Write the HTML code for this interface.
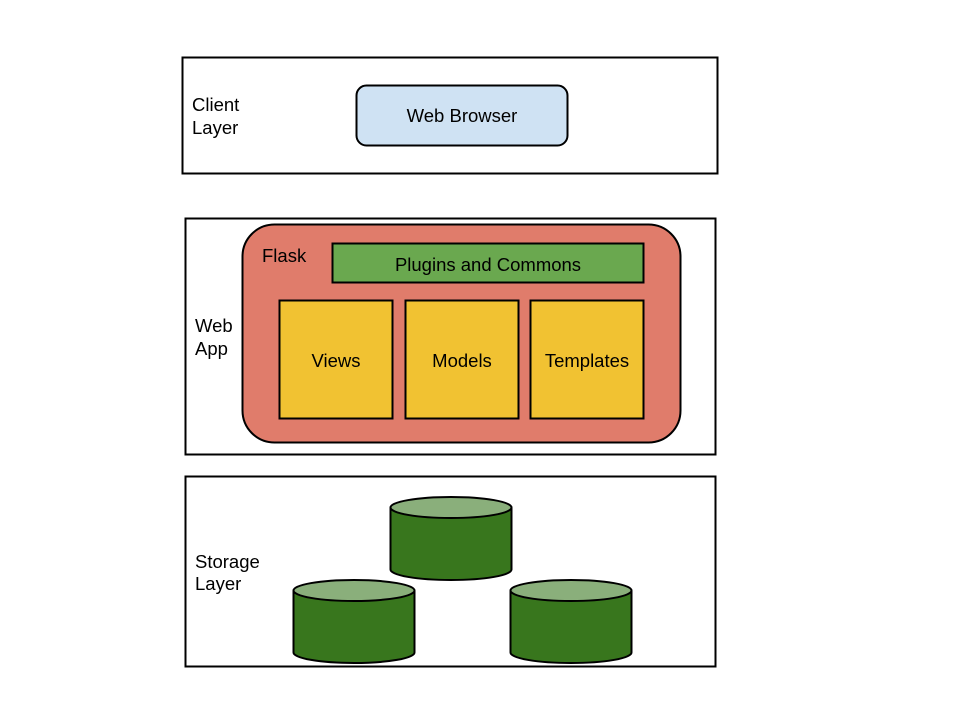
<!DOCTYPE html>
<html><head><style>body{margin:0;background:#fff}svg{display:block}text{font-family:"Liberation Sans",Arial,sans-serif;font-size:18.5px;fill:#000}</style></head>
<body>
<svg width="960" height="720" viewBox="0 0 960 720" xmlns="http://www.w3.org/2000/svg">
<g stroke="#000" stroke-width="2">
<rect x="182.5" y="57.5" width="535" height="116" fill="#fff"/>
<rect x="356.5" y="85.5" width="211" height="60" rx="10" fill="#cfe2f3"/>
<rect x="185.5" y="218.5" width="530" height="236" fill="#fff"/>
<rect x="242.5" y="224.5" width="438" height="218" rx="32" fill="#e07c6b"/>
<rect x="332.5" y="243.5" width="311" height="39" fill="#6aa84f"/>
<rect x="279.5" y="300.5" width="113" height="118" fill="#f1c232"/>
<rect x="405.5" y="300.5" width="113" height="118" fill="#f1c232"/>
<rect x="530.5" y="300.5" width="113" height="118" fill="#f1c232"/>
<rect x="185.5" y="476.5" width="530" height="190" fill="#fff"/>
<path d="M390.5 507.5 V569.5 A60.5 10.5 0 0 0 511.5 569.5 V507.5" fill="#38761d"/>
<ellipse cx="451" cy="507.5" rx="60.5" ry="10.5" fill="#8aaf7b"/>
<path d="M293.5 590.5 V652.5 A60.5 10.5 0 0 0 414.5 652.5 V590.5" fill="#38761d"/>
<ellipse cx="354" cy="590.5" rx="60.5" ry="10.5" fill="#8aaf7b"/>
<path d="M510.5 590.5 V652.5 A60.5 10.5 0 0 0 631.5 652.5 V590.5" fill="#38761d"/>
<ellipse cx="571" cy="590.5" rx="60.5" ry="10.5" fill="#8aaf7b"/>
</g>
<text x="192" y="111">Client</text><text x="192" y="134">Layer</text>
<text x="462" y="122" text-anchor="middle">Web Browser</text>
<text x="195" y="332">Web</text><text x="195" y="355">App</text>
<text x="262" y="262">Flask</text>
<text x="488" y="271" text-anchor="middle">Plugins and Commons</text>
<text x="336" y="367" text-anchor="middle">Views</text>
<text x="462" y="367" text-anchor="middle">Models</text>
<text x="587" y="367" text-anchor="middle">Templates</text>
<text x="195" y="568">Storage</text><text x="195" y="590">Layer</text>
</svg>
</body></html>
